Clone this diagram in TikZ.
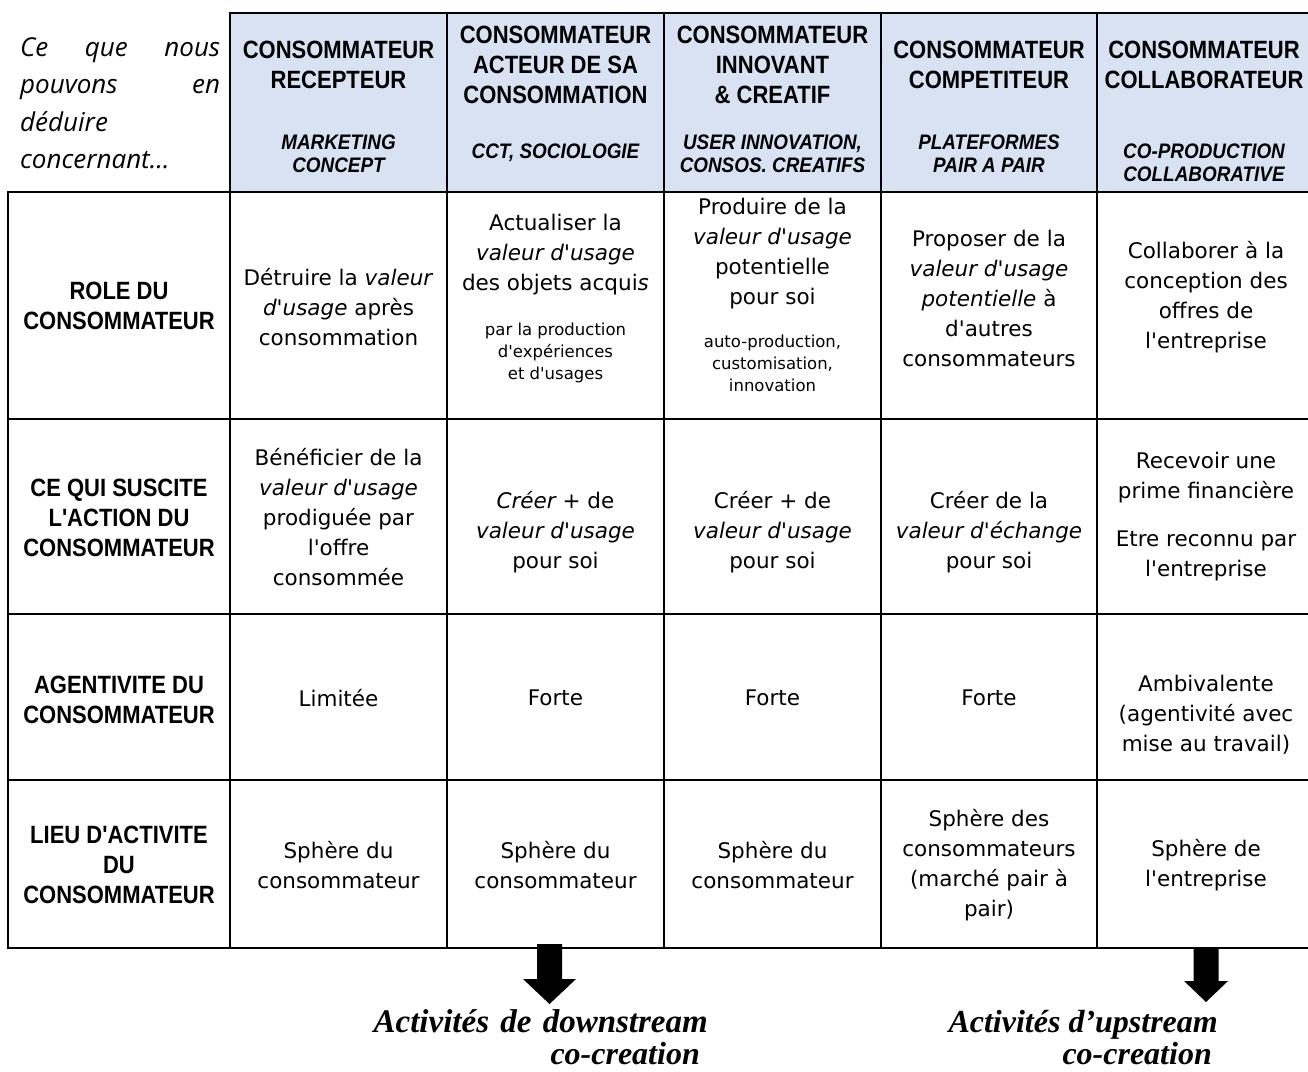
\documentclass[tikz,border=0pt]{standalone}
\usepackage{fontspec}
\newfontfamily\bodyfont{DejaVu Sans}
\newfontfamily\hdfont[FakeStretch=0.88]{Liberation Sans}
\newfontfamily\subfont[FakeStretch=0.9]{Liberation Sans}
\newfontfamily\ceqfont{Open Sans}
\newfontfamily\tnfont{Liberation Serif}
\definecolor{hdblue}{HTML}{D9E2F3}
\begin{document}
\begin{tikzpicture}[x=1pt,y=-1pt,
  grid/.style={line width=2.6pt,line cap=rect},
  hd/.style={font=\hdfont\bfseries\fontsize{25}{30}\selectfont,align=center,inner sep=0pt},
  sub/.style={font=\subfont\bfseries\itshape\fontsize{21}{23}\selectfont,align=center,inner sep=0pt},
  cell/.style={font=\bodyfont\fontsize{21.5}{30}\selectfont,align=center,inner sep=0pt},
  small/.style={font=\bodyfont\fontsize{16.5}{22}\selectfont,align=center,inner sep=0pt},
  ceq/.style={font=\ceqfont\itshape\fontsize{26}{30}\selectfont,anchor=base west,inner sep=0pt},
  bot/.style={font=\tnfont\bfseries\itshape\fontsize{32}{34}\selectfont,anchor=base east,inner sep=0pt},
  blockarrow/.style={fill=black,draw=none}]
\useasboundingbox (0,0) rectangle (1308,1071);
% header fill
\fill[hdblue] (230,13) rectangle (1310,192);
% grid
\draw[grid] (230,13) -- (1310,13);
\foreach \x in {230,447,664,881,1097} \draw[grid] (\x,13) -- (\x,948);
\draw[grid] (8,192) -- (8,948);
\foreach \y in {192,419,614,780,948} \draw[grid] (8,\y) -- (1310,\y);
% top-left text
\node[ceq] (q1) at (20,56) {\hbox to 200pt{Ce\hfill que\hfill nous}};
\node[ceq] (q2) at (20,93) {\hbox to 200pt{pouvons\hfill en}};
\node[ceq] (q3) at (20,131) {déduire};
\node[ceq] (q4) at (20,168) {concernant…};
% headers
\node[hd] (h1) at (338.5,65) {CONSOMMATEUR\\RECEPTEUR};
\node[sub] (s1) at (338.5,153.5) {MARKETING\\CONCEPT};
\node[hd] (h2) at (555.5,64.5) {CONSOMMATEUR\\ACTEUR DE SA\\CONSOMMATION};
\node[sub] (s2) at (555.5,153) {CCT, SOCIOLOGIE};
\node[hd] (h3) at (772.5,64.5) {CONSOMMATEUR\\INNOVANT\\\& CREATIF};
\node[sub] (s3) at (772.5,153.5) {USER INNOVATION,\\CONSOS. CREATIFS};
\node[hd] (h4) at (989,65) {CONSOMMATEUR\\COMPETITEUR};
\node[sub] (s4) at (989,153.5) {PLATEFORMES\\PAIR A PAIR};
\node[hd] (h5) at (1204,65) {CONSOMMATEUR\\COLLABORATEUR};
\node[sub] (s5) at (1204,163) {CO-PRODUCTION\\COLLABORATIVE};
% row labels
\node[hd] (r1) at (119,306) {ROLE DU\\CONSOMMATEUR};
\node[hd] (r2) at (119,518) {CE QUI SUSCITE\\L'ACTION DU\\CONSOMMATEUR};
\node[hd] (r3) at (119,700) {AGENTIVITE DU\\CONSOMMATEUR};
\node[hd] (r4) at (119,865) {LIEU D'ACTIVITE\\DU\\CONSOMMATEUR};
% row 1
\node[cell] (c11) at (338.5,307) {Détruire la \textit{valeur}\\\textit{d'usage} après\\consommation};
\node[cell] (c12a) at (555.5,255) {Actualiser la\\\textit{valeur d'usage}\\des objets acqui\textit{s}};
\node[small] (c12b) at (555.5,353) {par la production\\d'expériences\\et d'usages};
\node[cell] (c13a) at (772.5,254) {Produire de la\\\textit{valeur d'usage}\\potentielle\\pour soi};
\node[small] (c13b) at (772.5,363) {auto-production,\\customisation,\\innovation};
\node[cell] (c14) at (989,298) {Proposer de la\\\textit{valeur d'usage}\\\textit{potentielle} à\\d'autres\\consommateurs};
\node[cell] (c15) at (1206,297) {Collaborer à la\\conception des\\offres de\\l'entreprise};
% row 2
\node[cell] (c21) at (338.5,517) {Bénéficier de la\\\textit{valeur d'usage}\\prodiguée par\\l'offre\\consommée};
\node[cell] (c22) at (555.5,532) {\textit{Créer +} de\\\textit{valeur d'usage}\\pour soi};
\node[cell] (c23) at (772.5,532) {Créer + de\\\textit{valeur d'usage}\\pour soi};
\node[cell] (c24) at (989,532) {Créer de la\\\textit{valeur d'échange}\\pour soi};
\node[cell] (c25a) at (1206,478) {Recevoir une\\prime financière};
\node[cell] (c25b) at (1206,556) {Etre reconnu par\\l'entreprise};
% row 3
\node[cell] (c31) at (338.5,698) {Limitée};
\node[cell] (c32) at (555.5,698) {Forte};
\node[cell] (c33) at (772.5,698) {Forte};
\node[cell] (c34) at (989,698) {Forte};
\node[cell] (c35) at (1206,714.5) {Ambivalente\\(agentivité avec\\mise au travail)};
% row 4
\node[cell] (c41) at (338.5,865) {Sphère du\\consommateur};
\node[cell] (c42) at (555.5,865) {Sphère du\\consommateur};
\node[cell] (c43) at (772.5,865) {Sphère du\\consommateur};
\node[cell] (c44) at (989,865) {Sphère des\\consommateurs\\(marché pair à\\pair)};
\node[cell] (c45) at (1206,865) {Sphère de\\l'entreprise};
% arrows
\coordinate (aL) at (549.5,944);
\coordinate (aR) at (1206,947);
\fill[blockarrow] (aL) ++(-12.5,0) -- ++(25,0) -- ++(0,35) -- ++(14,0) -- ++(-26.5,25) -- ++(-26.5,-25) -- ++(14,0) -- cycle;
\fill[blockarrow] (aR) ++(-12.5,0) -- ++(25,0) -- ++(0,34) -- ++(9.5,0) -- ++(-22,21) -- ++(-22,-21) -- ++(9.5,0) -- cycle;
% bottom texts
\node[bot,font=\tnfont\bfseries\itshape\fontsize{33}{34}\selectfont] (b1) at (708,1032) {Activités\hspace{3pt} de\hspace{3pt} downstream};
\node[bot] (b2) at (700,1064) {co-creation};
\node[bot] (b3) at (1218,1032) {Activités d’upstream};
\node[bot] (b4) at (1212,1064) {co-creation};
\end{tikzpicture}
\end{document}
